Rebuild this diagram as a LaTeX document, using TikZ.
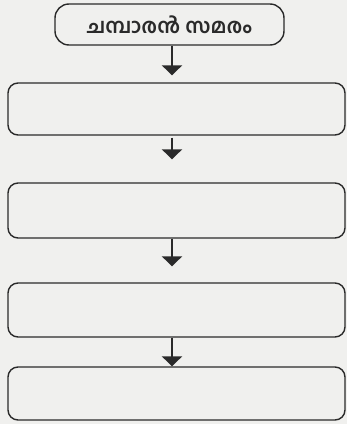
\documentclass[tikz,border=0pt]{standalone}
\usepackage{fontspec}
\newfontfamily\malfont[Script=Malayalam]{Hind Kochi}
\usetikzlibrary{arrows.meta}
\definecolor{paper}{HTML}{F0F0EE}
\definecolor{ink}{HTML}{2A2A2A}
\begin{document}
\begin{tikzpicture}[x=1pt,y=1pt,
  box/.style={draw=ink, line width=1.4pt, rounded corners=10pt, minimum width=337pt, inner sep=0pt},
  topbox/.style={draw=ink, line width=1.4pt, rounded corners=14pt, minimum width=229pt, minimum height=41pt, inner sep=0pt, font=\malfont\bfseries\fontsize{20.5}{24}\selectfont, text=ink},
  arr/.style={draw=ink, line width=2.8pt, -{Triangle[width=20pt,length=10pt]}}]
\fill[paper] (0,0) rectangle (347,424);
\useasboundingbox (0,0) rectangle (347,424);
\node[topbox] (b1) at (169.5,399.5) {ചമ്പാരൻ സമരം};
\node[box, minimum height=52pt] (b2) at (176.5,315) {};
\node[box, minimum height=55pt] (b3) at (176.5,213.5) {};
\node[box, minimum height=54pt] (b4) at (176.5,114) {};
\node[box, minimum height=53pt] (b5) at (176.5,30.5) {};
\coordinate (ax) at (172,0);
\draw[arr, shorten >=7pt] (b1.south -| ax) -- (b2.north -| ax);
\draw[arr, shorten <=2pt, shorten >=23pt] (b2.south -| ax) -- (b3.north -| ax);
\draw[arr, shorten >=16pt] (b3.south -| ax) -- (b4.north -| ax);
\draw[arr] (b4.south -| ax) -- (b5.north -| ax);
\end{tikzpicture}
\end{document}
